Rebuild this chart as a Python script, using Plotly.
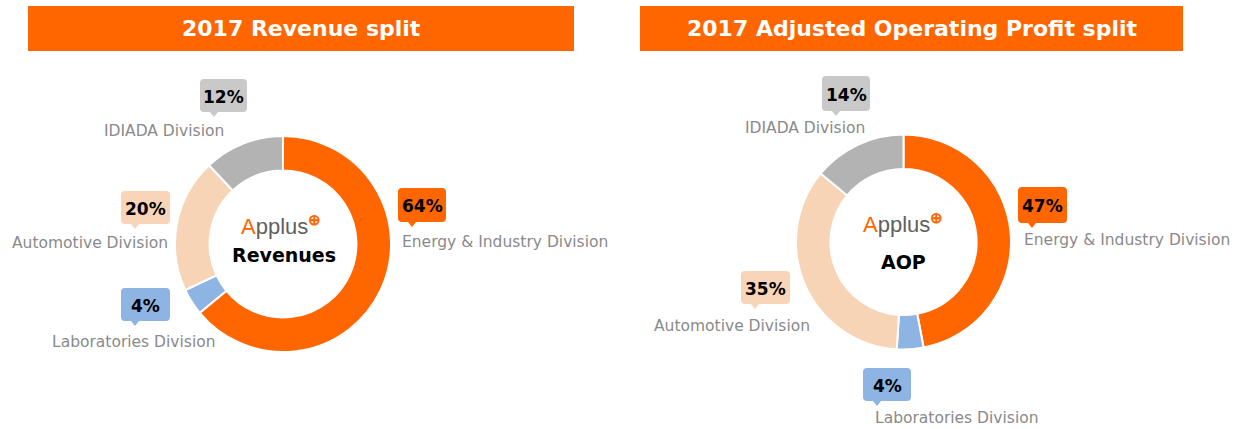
import plotly.graph_objects as go

# ---------------- data ----------------
categories = ["Energy & Industry Division", "Laboratories Division",
              "Automotive Division", "IDIADA Division"]
revenue_pct = [64, 4, 20, 12]
aop_pct = [47, 4, 35, 14]
panel_titles = ["2017 Revenue split", "2017 Adjusted Operating Profit split"]
center_words = ["Revenues", "AOP"]

# ---------------- style / layout ----------------
W, H = 1247, 429
ORANGE = "#FF6600"
slice_colors = [ORANGE, "#8DB4E2", "#F7D4B6", "#B3B3B3"]
box_colors = [ORANGE, "#8DB4E2", "#F8D5B9", "#C9C9C9"]
LABEL_GREY = "#8A8A8A"
FONT = "DejaVu Sans"

# pixel geometry of each panel (x0, x1, y0, y1 from top-left)
title_bars = [(28, 574, 6, 51), (640, 1183, 6, 51)]
donuts = [(283, 244, 108), (903.5, 242, 107.5)]  # cx, cy, r
logo_pos = [(281, 225), (903, 223)]
word_pos = [(284, 255), (903, 262)]
# callout boxes per slice: (x0, x1, y0, y1) and label centre (x, y)
boxes = [
    [(398, 446, 188, 222), (121, 170, 288, 321), (121, 170, 191, 224), (200, 247, 79, 112)],
    [(1018, 1067, 187, 223), (863, 911, 368, 401), (741, 790, 271, 304), (822, 870, 76, 111)],
]
labels_at = [
    [(505, 242), (134, 342), (90, 243), (164, 131)],
    [(1127, 240), (957, 418), (732, 326), (805, 128)],
]


def px(x):
    return x / W


def py(y):
    return 1 - y / H


def callout_path(x0, x1, y0, y1, r=4, tip_off=14, tip_w=8, tip_h=5):
    pts = []
    tx = x0 + tip_off
    cmds = [
        ("M", x0 + r, y0), ("L", x1 - r, y0), ("Q", x1, y0, x1, y0 + r),
        ("L", x1, y1 - r), ("Q", x1, y1, x1 - r, y1),
        ("L", tx + tip_w / 2, y1), ("L", tx, y1 + tip_h), ("L", tx - tip_w / 2, y1),
        ("L", x0 + r, y1), ("Q", x0, y1, x0, y1 - r),
        ("L", x0, y0 + r), ("Q", x0, y0, x0 + r, y0),
    ]
    for c in cmds:
        k = c[0]
        vals = c[1:]
        coords = []
        for i in range(0, len(vals), 2):
            coords.append(f"{px(vals[i]):.5f},{py(vals[i + 1]):.5f}")
        pts.append(k + " " + " ".join(coords))
    return " ".join(pts) + " Z"


fig = go.Figure()
shapes = []
annotations = []

for p, values in enumerate([revenue_pct, aop_pct]):
    cx, cy, r = donuts[p]
    fig.add_trace(go.Pie(
        labels=categories, values=values, hole=0.68, sort=False,
        direction="clockwise", rotation=0,
        marker=dict(colors=slice_colors, line=dict(color="white", width=2)),
        textinfo="none", hoverinfo="label+percent", showlegend=False,
        domain=dict(x=[px(cx - r), px(cx + r)], y=[py(cy + r), py(cy - r)]),
    ))

    # title bar
    x0, x1, y0, y1 = title_bars[p]
    shapes.append(dict(type="rect", xref="paper", yref="paper",
                       x0=px(x0), x1=px(x1), y0=py(y1), y1=py(y0),
                       fillcolor=ORANGE, line=dict(width=0), layer="below"))
    annotations.append(dict(xref="paper", yref="paper", x=px((x0 + x1) / 2),
                            y=py((y0 + y1) / 2), text=f"<b>{panel_titles[p]}</b>",
                            showarrow=False, xanchor="center", yanchor="middle",
                            font=dict(family=FONT, size=22, color="white")))

    # centre texts
    lx, ly = logo_pos[p]
    annotations.append(dict(
        xref="paper", yref="paper", x=px(lx), y=py(ly), showarrow=False,
        xanchor="center", yanchor="middle",
        text=(f"<span style='color:{ORANGE}'>A</span>"
              "<span style='color:#606060'>pplus</span>"
              f"<span style='color:{ORANGE}'><sup><b>⊕</b></sup></span>"),
        font=dict(family="Liberation Sans", size=22)))
    wx, wy = word_pos[p]
    annotations.append(dict(xref="paper", yref="paper", x=px(wx), y=py(wy),
                            showarrow=False, xanchor="center", yanchor="middle",
                            text=f"<b>{center_words[p]}</b>",
                            font=dict(family=FONT, size=19, color="black")))

    # callouts
    for i, v in enumerate(values):
        bx0, bx1, by0, by1 = boxes[p][i]
        shapes.append(dict(type="path", xref="paper", yref="paper",
                           path=callout_path(bx0, bx1, by0, by1),
                           fillcolor=box_colors[i], line=dict(width=0)))
        annotations.append(dict(xref="paper", yref="paper",
                                x=px((bx0 + bx1) / 2), y=py((by0 + by1) / 2 + 1),
                                text=f"<b>{v}%</b>", showarrow=False,
                                xanchor="center", yanchor="middle",
                                font=dict(family=FONT, size=17, color="black")))
        lx, ly = labels_at[p][i]
        annotations.append(dict(xref="paper", yref="paper", x=px(lx), y=py(ly),
                                text=categories[i], showarrow=False,
                                xanchor="center", yanchor="middle",
                                font=dict(family=FONT, size=15.5, color=LABEL_GREY)))

fig.update_layout(
    width=W, height=H, margin=dict(l=0, r=0, t=0, b=0),
    paper_bgcolor="white", plot_bgcolor="white",
    shapes=shapes, annotations=annotations,
)

fig.write_html("out.html", config={"displayModeBar": False},
               post_script="document.body.style.margin='0px';"
                           "document.body.style.overflow='hidden';")
